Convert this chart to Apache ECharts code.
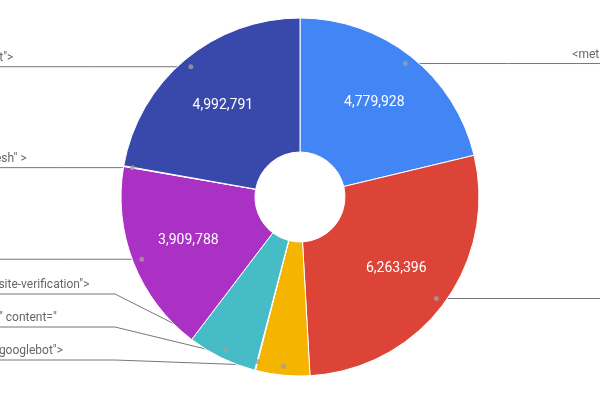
<!DOCTYPE html>
<html>
<head>
<meta charset="utf-8">
<title>meta tags</title>
<script src="https://cdn.jsdelivr.net/npm/echarts@6/dist/echarts.min.js"></script>
<style>
  html, body { margin: 0; padding: 0; background: #fff; }
  #chart { width: 600px; height: 397px; }
</style>
</head>
<body>
<div id="chart"></div>
<script>
// slices, clockwise from 12 o'clock
const tags = [
  '<meta name="viewport" content="width=device-width, initial-scale=1">',
  '<meta charset="utf-8">',
  '<meta name="robots" content="googlebot">',
  '<meta id="d" name="description" content="',
  '<meta lang="en" name="google-site-verification">',
  '<meta name="robots">',
  '<meta name="" http-equiv="refresh" >',
  '<meta name="robots" content="t">'
]
const counts = [4779928, 6263396, 1100000, 15000, 1410000, 3909788, 15000, 4992791]
const colors = ['#4285f4', '#db4437', '#f4b400', '#0f9d58', '#46bdc6', '#ab30c4', '#7baaf7', '#3949ab']

const CX = 300
const CY = 197
const R_IN = 45
const R_OUT = 179
const DOT_R = 170
const VAL_R = 120

const total = counts.reduce((a, b) => a + b, 0)

// dot + label-line layout, derived from the slice values
let acc = 0
const slices = counts.map((v, i) => {
  const midVal = acc + v / 2
  acc += v
  const a = midVal / total * Math.PI * 2
  return {
    i,
    midVal,
    sin: Math.sin(a),
    cos: Math.cos(a),
    dx: CX + DOT_R * Math.sin(a),
    dy: CY - DOT_R * Math.cos(a),
    right: Math.sin(a) > 0
  }
})
const left = slices.filter(s => !s.right).sort((a, b) => b.dy - a.dy)
let prev = Infinity
left.forEach(s => {
  s.ly = Math.min(s.dy, 360, prev - 33)
  prev = s.ly
})
slices.filter(s => s.right).forEach(s => { s.ly = s.dy })

const pieData = tags.map((t, i) => ({ name: t, value: counts[i], itemStyle: { color: colors[i] } }))

const chart = echarts.init(document.getElementById('chart'))
chart.setOption({
  animation: false,
  textStyle: { fontFamily: 'Roboto' },
  polar: { center: [CX, CY], radius: R_OUT },
  angleAxis: { type: 'value', min: 0, max: total, startAngle: 90, clockwise: true, show: false },
  radiusAxis: { type: 'value', min: 0, max: R_OUT, show: false },
  series: [
    {
      type: 'pie',
      center: [CX, CY],
      radius: [R_IN, R_OUT],
      startAngle: 90,
      silent: true,
      itemStyle: { borderColor: '#fff', borderWidth: 1 },
      label: {
        position: 'inside',
        color: '#fff',
        fontSize: 14,
        formatter: p => p.percent > 8 ? p.value.toLocaleString('en-US') : ''
      },
      labelLine: { show: false },
      labelLayout: params => {
        const s = slices[params.dataIndex]
        return {
          x: CX + VAL_R * s.sin,
          y: CY - VAL_R * s.cos,
          align: 'center',
          verticalAlign: 'middle'
        }
      },
      data: pieData
    },
    {
      type: 'pie',
      center: [CX, CY],
      radius: [R_IN, R_OUT],
      startAngle: 90,
      silent: true,
      avoidLabelOverlap: false,
      itemStyle: { color: 'rgba(0,0,0,0)' },
      label: {
        position: 'outside',
        color: '#666',
        fontSize: 12,
        overflow: 'none',
        formatter: '{b}'
      },
      labelLine: { show: true, lineStyle: { color: '#777', width: 1 } },
      labelLayout: params => {
        const s = slices[params.dataIndex]
        const endX = s.right ? 610 : -10
        const elbowX = s.right ? CX + 185 : CX - 185
        const mid = Math.abs(s.ly - s.dy) > 0.5 ? [elbowX, s.ly] : [(s.dx + endX) / 2, s.ly]
        return {
          x: s.right ? 945 : -170,
          y: s.ly - 3,
          align: s.right ? 'right' : 'left',
          verticalAlign: 'bottom',
          labelLinePoints: [[s.dx, s.dy], mid, [endX, s.ly]]
        }
      },
      data: tags.map((t, i) => ({ name: t, value: counts[i] }))
    },
    {
      type: 'scatter',
      coordinateSystem: 'polar',
      silent: true,
      symbolSize: 5,
      itemStyle: { color: '#9e9e9e' },
      data: slices.map(s => [DOT_R, s.midVal])
    }
  ]
})
</script>
</body>
</html>
